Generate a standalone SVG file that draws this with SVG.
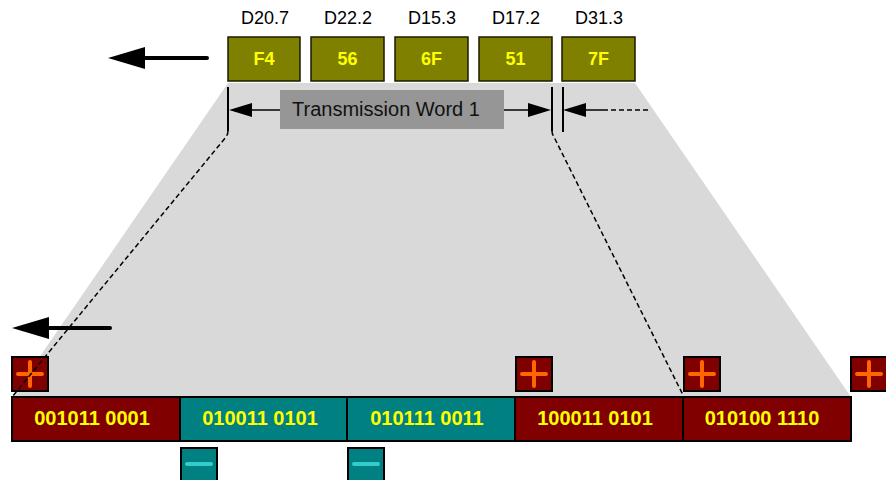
<svg xmlns="http://www.w3.org/2000/svg" width="886" height="480" viewBox="0 0 886 480">
<defs>
<style>
.lbl{font-family:"Liberation Sans",Arial,sans-serif;font-size:18px;fill:#000;text-anchor:middle}
.sym{fill:#808000;stroke:#1a1a00;stroke-width:1.5}
.symt{font-family:"Liberation Sans",Arial,sans-serif;font-size:18px;font-weight:bold;fill:#ffff00;text-anchor:middle}
.seg-r{fill:#800000;stroke:#000;stroke-width:2}
.seg-t{fill:#008080;stroke:#000;stroke-width:2}
.segt{font-family:"Liberation Sans",Arial,sans-serif;font-size:20px;font-weight:bold;fill:#ffff00;text-anchor:middle}
.pbox{fill:#800000;stroke:#000;stroke-width:2}
.mbox{fill:#008080;stroke:#000;stroke-width:2}
.plus{stroke:#ff6600;stroke-width:4;stroke-linecap:round;fill:none}
.minus{stroke:#33cccc;stroke-width:4;stroke-linecap:round;fill:none}
.dim{stroke:#000;stroke-width:2;fill:none}
.dash{stroke:#000;stroke-width:1.5;fill:none;stroke-dasharray:5 3}
</style>
<marker id="bigHead" viewBox="0 0 37 22" refX="0" refY="11" markerWidth="37" markerHeight="22" markerUnits="userSpaceOnUse" orient="auto">
<path d="M0,0 L37,11 L0,22 z" fill="#000"/>
</marker>
<marker id="smallHead" viewBox="0 0 23 14" refX="0" refY="7" markerWidth="23" markerHeight="14" markerUnits="userSpaceOnUse" orient="auto">
<path d="M0,0 L23,7 L0,14 z" fill="#000"/>
</marker>
</defs>
<rect x="0" y="0" width="886" height="480" fill="#fff"/>
<polygon id="spread" points="228,83 635,83 851,397 12,397" fill="#d9d9d9"/>

<g id="sym-F4"><text class="lbl" x="265" y="24">D20.7</text><rect class="sym" x="228" y="37" width="72" height="44"/><text class="symt" x="264" y="65">F4</text></g>
<g id="sym-56"><text class="lbl" x="348" y="24">D22.2</text><rect class="sym" x="311" y="37" width="73" height="44"/><text class="symt" x="347.5" y="65">56</text></g>
<g id="sym-6F"><text class="lbl" x="432" y="24">D15.3</text><rect class="sym" x="395" y="37" width="73" height="44"/><text class="symt" x="431.5" y="65">6F</text></g>
<g id="sym-51"><text class="lbl" x="516" y="24">D17.2</text><rect class="sym" x="479" y="37" width="73" height="44"/><text class="symt" x="515.5" y="65">51</text></g>
<g id="sym-7F"><text class="lbl" x="599" y="24">D31.3</text><rect class="sym" x="562" y="37" width="73" height="44"/><text class="symt" x="598.5" y="65">7F</text></g>

<g id="word-label"><rect x="280" y="90" width="224" height="39" fill="#969696"/><text x="386" y="116" font-family="'Liberation Sans',Arial,sans-serif" font-size="20" fill="#111" text-anchor="middle">Transmission Word 1</text></g>

<g id="seg1"><rect class="seg-r" x="12" y="397" width="168" height="44"/><text class="segt" x="92" y="425">001011 0001</text></g>
<g id="seg2"><rect class="seg-t" x="180" y="397" width="167" height="44"/><text class="segt" x="260" y="425">010011 0101</text></g>
<g id="seg3"><rect class="seg-t" x="347" y="397" width="168" height="44"/><text class="segt" x="427" y="425">010111 0011</text></g>
<g id="seg4"><rect class="seg-r" x="515" y="397" width="168" height="44"/><text class="segt" x="595" y="425">100011 0101</text></g>
<g id="seg5"><rect class="seg-r" x="683" y="397" width="168" height="44"/><text class="segt" x="762" y="425">010100 1110</text></g>

<g id="rd-plus-1"><rect class="pbox" x="12" y="357" width="36" height="34"/><path class="plus" d="M18,374 H42 M30,362 V386"/></g>
<g id="rd-plus-2"><rect class="pbox" x="516" y="357" width="36" height="34"/><path class="plus" d="M522,374 H546 M534,362 V386"/></g>
<g id="rd-plus-3"><rect class="pbox" x="684" y="357" width="36" height="34"/><path class="plus" d="M690,374 H714 M702,362 V386"/></g>
<g id="rd-plus-4"><rect class="pbox" x="851" y="357" width="36" height="34"/><path class="plus" d="M857,374 H881 M869,362 V386"/></g>
<g id="rd-minus-1"><rect class="mbox" x="181" y="448" width="36" height="36"/><path class="minus" d="M187,464 H211"/></g>
<g id="rd-minus-2"><rect class="mbox" x="348" y="448" width="36" height="36"/><path class="minus" d="M354,464 H378"/></g>

<g id="connectors">
<line x1="207" y1="58" x2="145" y2="58" stroke="#000" stroke-width="4" stroke-linecap="round" marker-end="url(#bigHead)"/>
<line x1="110" y1="328" x2="49" y2="328" stroke="#000" stroke-width="4" stroke-linecap="round" marker-end="url(#bigHead)"/>
<line class="dim" x1="228" y1="87" x2="228" y2="131"/>
<line class="dim" x1="552" y1="87" x2="552" y2="131"/>
<line class="dim" x1="563" y1="87" x2="563" y2="132"/>
<line x1="280" y1="110" x2="252" y2="110" stroke="#000" stroke-width="1.5" marker-end="url(#smallHead)"/>
<line x1="504" y1="110" x2="528" y2="110" stroke="#000" stroke-width="1.5" marker-end="url(#smallHead)"/>
<line x1="605" y1="110" x2="586" y2="110" stroke="#000" stroke-width="1.5" marker-end="url(#smallHead)"/>
<line class="dash" x1="648" y1="110" x2="605" y2="110"/>
<path class="dash" d="M228,131 Q228,134 226,137 L12,397"/>
<path class="dash" d="M552,131 Q552,134 554,137 L683,395"/>
</g>
</svg>
